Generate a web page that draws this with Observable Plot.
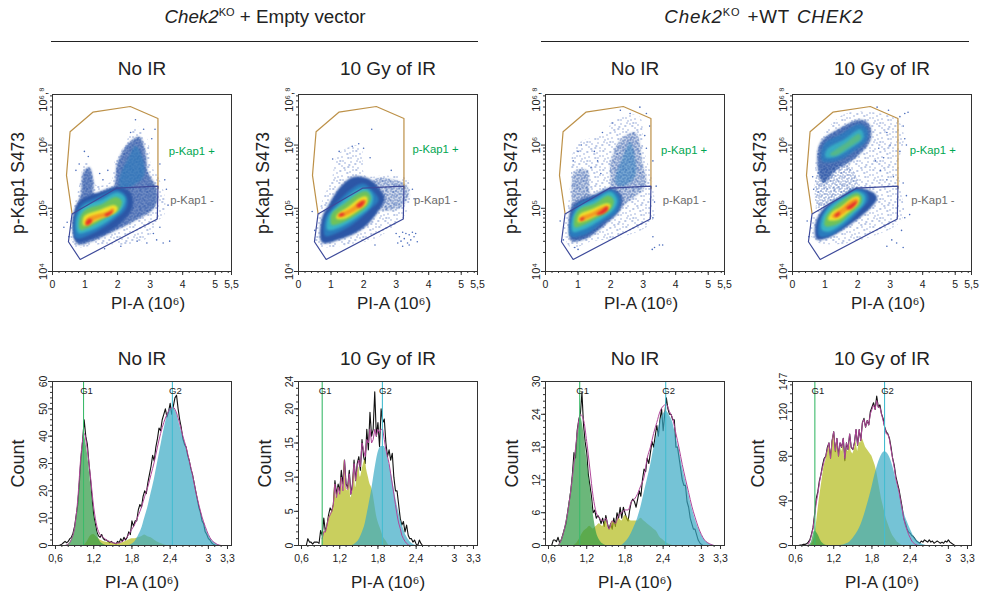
<!DOCTYPE html>
<html><head><meta charset="utf-8">
<script src="https://cdn.jsdelivr.net/npm/d3@7"></script>
<script src="https://cdn.jsdelivr.net/npm/@observablehq/plot@0.6"></script>
<style>
html,body{margin:0;padding:0;background:#fff;overflow:hidden}
#page{position:relative;width:983px;height:594px;font-family:"Liberation Sans",Arial,sans-serif;color:#222}
.head{position:absolute;top:6px;font-size:18.8px;white-space:nowrap;transform:translateX(-50%)}
.head sup{font-size:11px;line-height:0}
.rule{position:absolute;top:41px;height:1.2px;background:#222}
.pn{position:absolute}
</style></head><body>
<svg width="0" height="0" style="position:absolute"><defs id="defs"></defs></svg>
<div id="page">
<div class="head" style="left:265px"><i>Chek2</i><sup>KO</sup> + Empty vector</div>
<div class="head" style="left:764px;letter-spacing:.85px;word-spacing:1px"><i>Chek2</i><sup>KO</sup> +WT <i>CHEK2</i></div>
<div class="rule" style="left:51px;width:427px"></div>
<div class="rule" style="left:541px;width:428px"></div>
</div>
<script>
// ---- texture tiles for the sparse parts of the flow plots ----
const tileA=[[1,2],[6,1],[11,3],[17,1],[21,4],[3,7],[9,8],[14,6],[19,9],[1,11],[6,13],[12,12],[16,14],[21,12],[3,16],[9,17],[14,17],[19,18],[8,4],[14,1],[4,11],[10,15],[17,6],[22,8],[0,14],[18,11],[12,8],[5,18]];
const tileB=[[0,0],[2,1],[4,0],[7,1],[9,0],[12,1],[14,0],[17,1],[20,0],[1,3],[3,4],[6,3],[8,4],[11,3],[13,4],[16,3],[19,4],[21,3],[0,6],[2,7],[5,6],[7,7],[10,6],[12,7],[15,6],[18,7],[20,6],[22,7],[1,9],[4,10],[6,9],[9,10],[11,9],[14,10],[16,9],[19,10],[21,9],[0,12],[3,13],[5,12],[8,13],[10,12],[13,13],[15,12],[18,13],[20,12],[2,15],[4,16],[7,15],[9,16],[12,15],[14,16],[17,15],[19,16],[22,15],[1,18],[6,18],[11,17],[16,18],[21,17]];
function tile(id,list,col){
  const p=d3.select("#defs").append("pattern").attr("id",id).attr("width",23).attr("height",19).attr("patternUnits","userSpaceOnUse");
  list.forEach(([a,b],i)=>p.append("rect").attr("x",a).attr("y",b).attr("width",i%3?1:1.5).attr("height",1).attr("fill",col));
}
tile("spk0",tileA,"#4a6cbc"); tile("spk1",tileB,"#2f57aa");

// ---- colour levels of the pseudo-colour density ----
const S0="url(#spk0)",S1="url(#spk1)",B="#2c56a6",M="#2a7bbd",C="#38b3c4",G="#6fc25a",Y="#f0e32c",O="#f39a22",R="#e62f2b";

// ---- gates (PI-A, log10 p-Kap1) ----
const gatePos=[[.6,4.92],[.43,5.52],[.54,6.21],[1.24,6.52],[2.39,6.61],[3.24,6.42],[3.24,5.31]];
const gateNeg=[[.6,4.91],[1.98,5.32],[3.24,5.35],[3.22,4.83],[.85,4.19],[.49,4.47]];

// ---- panel 1 density outlines ----
const a0=[[.72,4.38],[.51,4.64],[.62,4.95],[.75,5.21],[.87,5.47],[.97,5.73],[1.18,5.68],[1.33,5.37],[1.79,5.42],[1.9,5.73],[2.2,5.99],[2.56,6.3],[2.92,6.09],[3.03,5.68],[3.23,5.52],[3.44,5.21],[3.44,4.9],[3.23,4.79],[2.92,4.53],[2.31,4.43],[1.49,4.43],[.87,4.38]];
const a1=[[.77,4.43],[.62,4.69],[.69,4.98],[.87,5.21],[.95,5.57],[1.13,5.65],[1.26,5.41],[1.28,5.23],[1.85,5.31],[2,5.73],[2.36,6.04],[2.67,6.13],[2.87,5.84],[2.92,5.58],[3.15,5.37],[3.23,5.16],[3.08,4.98],[2.51,4.8],[1.9,4.64],[1.28,4.49]];
const a1m=[[.75,4.47],[.63,4.72],[.7,4.98],[.87,5.13],[1.4,5.25],[2,5.34],[2.4,5.25],[2.45,5],[2,4.72],[1.3,4.53]];
const a2u=[[2.05,5.47],[2.31,5.78],[2.56,5.99],[2.77,5.8],[2.82,5.52],[2.51,5.37],[2.1,5.31]];
const a2=[[.72,4.53],[.69,4.85],[.87,5.05],[1.38,5.18],[2,5.29],[2.28,5.18],[2.26,5],[1.85,4.8],[1.18,4.59]];
const a3=[[.79,4.61],[.75,4.85],[.95,5.03],[1.49,5.13],[2,5.25],[2.23,5.16],[2.15,5],[1.69,4.79],[1.13,4.64]];
const a4=[[.85,4.66],[.85,4.86],[1.03,4.98],[1.49,5.06],[1.95,5.18],[2.12,5.12],[2.05,4.98],[1.64,4.85],[1.13,4.7]];
const a5=[[.95,4.73],[.97,4.87],[1.49,4.98],[1.9,5.05],[2,5.01],[1.95,4.94],[1.49,4.84],[1.08,4.74]];
const a6=[[1,4.75],[1.06,4.84],[1.33,4.9],[1.7,4.95],[1.85,5],[1.9,4.96],[1.7,4.88],[1.33,4.82],[1.05,4.73]];
const a7=[[1.02,4.76],[1.08,4.82],[1.2,4.83],[1.2,4.78],[1.05,4.73]];
const a8=[[1.6,4.9],[1.75,4.94],[1.85,4.97],[1.82,4.92],[1.65,4.87]];
const aDots=[[2.55,6.4],[2.8,6.25],[2.4,6.2],[3.05,6.1],[.98,5.9],[1.1,5.82],[.72,5.6],[.82,5.7],[3.3,5.7],[3.45,5.45],[3.5,5.3],[3.55,5.05],[3.3,4.7],[3.1,4.6],[2.9,4.45],[2.6,4.48],[3.4,4.45],[3.6,4.48],[3.2,4.5],[.45,4.78],[.5,4.55],[.35,4.7],[2.1,4.4],[1.6,4.36],[3.15,6.25],[1.45,5.55],[1.55,5.45],[1.7,5.6]];

// ---- panel 2 density outlines ----
const b0=[[.51,4.43],[.56,4.74],[.72,5.11],[1.02,5.47],[1.23,5.86],[1.9,5.99],[2.05,5.52],[2.61,5.52],[3.33,5.47],[3.43,5.21],[3.28,4.9],[2.41,4.53],[1.59,4.43],[.87,4.38]];
const b1=[[.72,4.46],[.72,4.85],[.92,5.05],[1.28,5.34],[1.69,5.5],[2.15,5.47],[2.5,5.3],[2.65,5.15],[2.45,4.95],[2,4.69],[1.28,4.51]];
const bArm=[[2.3,5.45],[3.3,5.38],[3.38,5.2],[3.1,5],[2.4,5]];
const b2=[[.82,4.56],[.82,4.85],[1.08,5.03],[1.59,5.29],[2,5.39],[2.31,5.26],[2.46,5.13],[2.2,4.98],[1.59,4.72],[1.08,4.59]];
const b3=[[.89,4.66],[.92,4.87],[1.28,5.08],[1.79,5.29],[2.05,5.32],[2.28,5.21],[2.25,5.06],[1.79,4.85],[1.23,4.69]];
const b4=[[1.02,4.74],[1.02,4.91],[1.43,5.08],[1.9,5.25],[2.12,5.26],[2.22,5.16],[2.1,5.03],[1.69,4.87],[1.23,4.75]];
const b5=[[1.16,4.84],[1.2,4.91],[1.49,5.01],[1.95,5.18],[2.1,5.18],[2.1,5.08],[1.79,4.95],[1.43,4.84]];
const b6=[[1.2,4.86],[1.35,4.93],[1.6,5],[1.95,5.13],[2.07,5.13],[2.05,5.07],[1.75,4.96],[1.45,4.88]];
const b7=[[1.22,4.89],[1.35,4.93],[1.42,4.9],[1.3,4.87]];
const b8=[[1.78,5.04],[1.95,5.11],[2.03,5.12],[1.98,5.05],[1.85,5.01]];
const bDots=[[2.25,6.25],[1.85,6.02],[1.65,5.98],[2.0,5.95],[2.2,5.8],[1.25,5.9],[1.05,5.78],[3.0,4.6],[3.1,4.55],[3.15,4.48],[3.2,4.62],[3.25,4.52],[3.3,4.6],[3.35,4.45],[3.4,4.58],[3.45,4.5],[3.5,4.62],[3.55,4.55],[3.6,4.6],[3.65,4.47],[3.05,4.45],[3.2,4.4],[3.4,4.42],[2.35,4.42],[.42,4.95],[.5,4.65],[3.5,5.3],[3.55,5.15],[2.85,5.6]];

// ---- panel 3 density outlines ----
const c0=[[.77,4.38],[.56,4.69],[.67,4.98],[.77,5.42],[.92,5.99],[1.84,6.2],[2.1,6.4],[2.87,6.46],[3.02,5.94],[3.28,5.42],[3.28,4.79],[2.25,4.53],[1.43,4.48]];
const c1=[[.79,4.48],[.72,4.74],[.8,5.03],[.9,5.58],[1.28,5.6],[1.4,5.22],[1.95,5.31],[2,5.73],[2.31,6.09],[2.77,6.2],[2.97,5.73],[3.08,5.37],[2.56,5.11],[2.2,4.95],[1.79,4.74],[1.2,4.51]];
const c1m=[[.8,4.5],[.72,4.75],[.78,5],[1,5.12],[1.5,5.22],[2,5.32],[2.35,5.2],[2.3,4.98],[1.85,4.75],[1.25,4.53]];
const c2=[[.77,4.56],[.79,4.87],[.97,5.05],[1.5,5.18],[2,5.29],[2.28,5.18],[2.2,4.95],[1.8,4.8],[1.2,4.58]];
const c2u=[[2.15,5.4],[2.4,5.85],[2.6,6.05],[2.75,5.8],[2.75,5.5],[2.4,5.35]];
const c3=[[.84,4.63],[.84,4.87],[1.05,5.03],[1.5,5.13],[2,5.26],[2.2,5.13],[2.1,4.98],[1.7,4.82],[1.15,4.66]];
const c4=[[.9,4.7],[.92,4.9],[1.1,5],[1.5,5.07],[1.95,5.2],[2.1,5.12],[2,4.98],[1.6,4.85],[1.15,4.73]];
const c5=[[1,4.78],[1.05,4.9],[1.4,4.98],[1.9,5.08],[2,5.05],[1.9,4.97],[1.5,4.87],[1.15,4.79]];
const c6=[[1.03,4.82],[1.1,4.87],[1.4,4.93],[1.8,5.03],[1.95,5.03],[1.85,4.96],[1.55,4.89],[1.2,4.82]];
const c7=[[1.55,4.9],[1.7,4.96],[1.9,5.03],[1.92,4.98],[1.72,4.9]];
const c8=[[1.05,4.82],[1.15,4.86],[1.2,4.83],[1.08,4.8]];
const cDots=[[2.9,6.6],[2.3,6.55],[2.6,6.5],[3.1,6.5],[3.2,6.3],[2.05,6.35],[1.75,6.2],[1.1,6],[1.0,5.9],[.85,5.75],[3.3,5.75],[3.4,5.35],[3.35,5.1],[3.3,4.85],[3.3,4.55],[3.35,4.38],[3.5,4.42],[3.6,4.42],[3.28,4.35],[.9,4.38],[1,4.35],[.45,4.8],[.55,4.5],[1.5,5.9],[1.6,5.75],[1.4,5.65],[1.7,5.55],[3.1,5.95],[3.05,6.15]];

// ---- panel 4 density outlines ----
const e0=[[.71,4.48],[.5,4.69],[.71,5],[.71,5.78],[.86,6.09],[1.48,6.46],[2.09,6.53],[3.22,6.4],[3.42,6.14],[3.27,5.73],[3.32,5.32],[3.42,4.9],[3.22,4.74],[2.3,4.53],[1.37,4.43]];
const e1m=[[.8,5.6],[.8,5],[1.5,5.2],[2,5.3],[1.7,5.7]];
const e1u=[[.78,5.62],[.86,6.04],[1.48,6.27],[2.09,6.4],[2.35,6.33],[2.4,6.09],[1.89,5.78],[1.37,5.62],[.95,5.4]];
const e2u=[[.91,5.75],[.96,6.01],[1.48,6.17],[2.04,6.33],[2.27,6.27],[2.3,6.09],[1.83,5.88],[1.37,5.75]];
const e3u=[[1.01,5.81],[1.07,5.94],[1.58,6.09],[2.09,6.25],[2.19,6.12],[1.83,5.96],[1.32,5.81]];
const e4u=[[1.15,5.85],[1.6,6.02],[2.05,6.18],[2.1,6.1],[1.75,5.97],[1.3,5.83]];
const e1=[[.74,4.51],[.71,4.77],[1.01,5.03],[1.48,5.18],[1.94,5.32],[2.45,5.26],[2.6,5.16],[2.35,4.98],[1.48,4.64],[.96,4.51]];
const e2=[[.82,4.56],[.82,4.8],[1.05,5],[1.5,5.18],[1.95,5.3],[2.27,5.25],[2.33,5.13],[2.1,4.98],[1.6,4.72],[1.1,4.56]];
const e3=[[.9,4.66],[.92,4.85],[1.15,5.03],[1.6,5.18],[1.98,5.27],[2.22,5.2],[2.2,5.08],[1.9,4.92],[1.5,4.74],[1.1,4.63]];
const e4=[[1,4.72],[1.03,4.87],[1.3,5.03],[1.7,5.18],[2,5.24],[2.12,5.18],[2.1,5.07],[1.75,4.9],[1.4,4.75]];
const e5=[[1.1,4.82],[1.2,4.93],[1.5,5.03],[1.9,5.18],[2.05,5.18],[2.02,5.08],[1.7,4.93],[1.4,4.82]];
const e6=[[1.2,4.87],[1.5,5],[1.85,5.14],[2,5.15],[1.95,5.07],[1.65,4.95],[1.35,4.85]];
const e7=[[1.3,4.89],[1.45,4.94],[1.45,4.9],[1.32,4.86]];
const e8=[[1.65,5],[1.9,5.1],[2,5.12],[1.93,5.05],[1.75,4.98]];
const eDots=[[3.45,6.5],[3.55,6.52],[3.3,6.45],[3.4,6.3],[3.45,6.1],[3.5,6],[3.3,5.9],[2.95,6.55],[2.6,6.6],[2.9,6.2],[3,6],[2.8,5.8],[2.7,5.6],[3.1,5.5],[2.9,5.45],[3.4,5.4],[3.5,5.2],[3.45,4.85],[3.35,4.65],[3.05,4.5],[3.2,4.45],[2.9,4.4],[3.4,4.38],[3.6,4.9],[.45,4.8],[.5,4.55],[.65,5.3],[.62,5.5],[2.55,5.75],[2.65,5.95]];

// ---- histogram x grids start at the first value, then fixed steps ----
const fine=.025, coarse=.05;
// panel 1 (No IR, empty vector)
const h1Black=[0,.2,.5,1,1.5,1,1.5,2.5,3,4.5,7,11,15,23,32,38,46,40,37,30,24,17,11,8,5,3.5,3,4,2.5,2,2,1.5,1,1.5,1,.8,.5,1.5,1,2.5,1.5,3,2,3,5,4,9,7,9,9,13,15,14,18,20,19,23,26,29,33,31,36,39,43,42,46,48,50,47,49,52,48,51,54,55,50,46,43,39,37,36,33,31,28,26,23,20,17,14,12,9,8,5,4,2.5,2,1,.5,.2,0];
const h1Fit=[0,.5,2.2,6.5,17,33,41,35,25,14,7,4,3,2,1.5,1,.8,1,1.5,2.5,4,6,8,11,14,18,21.5,26,30.5,36,41,45,48,50,50.5,48.5,44.5,40,36,31,26,20,15,10.5,7,4,2,1,.3,0];
const h1G1=[0,.5,2,6,15,30,40,34,23,12,5,1.5,.5,0];
const h1S=[0,1.5,3.5,4,3,2,1.5,1.2,1,.8,.5,.7,1,1.5,2,2.5,2.5,2.8,3.2,3.8,3.2,2.8,2,1.3,.7,.3,0];
const h1G2=[0,.5,1.5,3.5,6,10,14,19,24,30,36,42,47,50,50,48.5,44,40,36,31,26,20,15,10.5,7,4,2,1,.3,0];
// panel 2 (10 Gy, empty vector)
const h2Black=[0,1,.5,.5,.2,.5,.5,.5,.3,2.2,1.5,4,2,3,4.5,5.5,5,6,9.5,7.5,9,8,11,9,12.5,9,8.5,11,7.5,9,12.5,9.5,12,13,11,15.5,13,12,17,14,19.5,16,17,22.5,16,18,14.5,20,18,18.5,15,13,14,12.5,13.5,10,8,8,6,4,3,3.5,2,3,1.5,1,1,.5,.8,.2,0,.8,.3,0];
const h2Fit=[1,2,2,3,4,4.5,5,6,9,7,8.5,7.5,10,8,12.5,8.5,8.2,10.5,7.5,8.5,12,9.5,11.5,12.5,11.5,15,14,13,15.5,15,17,15,15.5,17,16,17,16.5,17,17,15.5,14,13,12,10.5,9,7.5,6,4.5,3.3,2.5,1.5,1,.6,.3,.1,0];
const h2S=[1,2,2,3,4,4.5,5,6,9,7,8.5,7.5,10,8,12.5,8.5,8,10,7,8,11.5,8.5,10.5,11.5,10,11,12,12.5,11,10,9,8.5,7.5,6,4.5,3.5,2.8,2.2,1.5,1,.7,.3,0];
const h2G2=[0,.3,.8,1.8,3.2,5.5,8,11,13.5,14.5,14.5,13,11,8.5,6,4,2.5,1.3,.6,.2,0];
// panel 3 (No IR, WT CHEK2)
const h3Black=[0,1,1,.7,1.5,.5,1,2,3,4,6,8,10,13,17,16,21,23,24,28,22,19,17,13,11,9,6,6.5,5,5.5,5,4,5,3.5,5.5,4,3,4,3,5,3.5,6,5,7,5,7,6,5,4.5,6.5,8,8.5,8,7,8.5,10,9,12,14,13.5,16,15,17,19,18,20,22,20,23,25,21,24,27,25,24,24,23,23,18,18,16,14,12,11,11,8,7,5,4,3,3,2,1,.5,.2,0];
const h3Fit=[0,1,3,6,10,15,20.5,24,23,19,14,9,6,5,4.5,5,3,4.5,4,5.5,6,6.5,6.5,8,8.5,9.5,11,12.5,16,18,20.5,22.5,24.5,25.5,25.8,24.5,23.2,20.5,17.8,14.8,12.2,9.7,7.2,5.2,3.4,2,1,.5,.2,0];
const h3G1=[0,1,3,6,10,15,20,23.5,21,16,11,6,2.5,1,.3,0];
const h3S=[0,.5,1.5,2.5,3,3.5,3,3.5,4,3.5,4.5,3,4.5,4,5,4.5,5.5,5,4.5,4.5,4.5,5,4.5,4,3.5,3,2.5,1.5,1,.5,.2,0];
const h3G2=[0,.5,1.2,2.2,3.5,5,7,9.5,12,14.5,17.5,20,22.5,24,24.5,23.8,22.5,20,17.5,14.5,12,9.5,7,5,3.3,2,1,.5,.2,0];
// panel 4 (10 Gy, WT CHEK2)
const h4Black=[0,.5,.5,1,1,1.5,3,5,10,16,28,42,48,58,64,72,78,80,88,92,78,94,102,84,96,80,92,88,96,76,92,86,100,88,86,92,104,90,104,94,110,114,106,112,108,120,124,128,122,134,124,126,118,114,106,102,100,96,88,78,72,62,56,50,42,34,24,20,15,12,11,9,8,6,4,3,2,4,3,5,4,3,5,3,4,2,3,4,3,2,3,2,4,3,5,3,2,1,0];
const h4Fit=[1,4,9,15,26,38,46,56,64,70,76,80,86,92,78,94,102,85,96,80,92,88,96,78,92,86,100,88,86,92,104,90,104,94,110,113,106,112,108,118,122,126,122,130,124,124,118,112,106,100,100,95,86,78,70,60,54,48,40,32,24,18,14,10,7,4,2.5,1,.5,0];
const h4G1=[0,3,13,10,4,1,0];
const h4S=[1,3,8,18,30,42,52,62,72,76,84,90,78,92,100,84,94,80,90,84,90,76,86,84,92,84,82,86,94,84,92,92,96,92,88,86,84,82,80,76,72,66,58,50,42,36,30,24,20,16,12,9,7,5,3,2,1,0];
const h4G2=[0,.5,1.5,3,6,10,15,22,31,41,52,64,74,81,84,82,76,66,54,42,30,22,15,9,5,2.5,1,0];

const series=(start,step,vals)=>vals.map((v,i)=>({x:start+i*step,y:v}));
const comma=v=>String(v).replace(".",",");
const ink="#333";
const fill={y:"rgb(178,186,26)",t:"rgb(58,169,196)",g:"rgb(50,155,70)"};

function put(node,left,top){
  const w=document.createElement("div");w.className="pn";w.style.left=left+"px";w.style.top=top+"px";
  w.appendChild(node);document.getElementById("page").appendChild(w);
}

// ---- flow panels ----
const decades=[1e4,1e5,1e6];
const decadeText=["10⁴","10⁵","10⁶"];
const topDecade=10**6.8;
const minorDecades=[2e4,3e4,4e4,5e4,6e4,7e4,8e4,9e4,2e5,3e5,4e5,5e5,6e5,7e5,8e5,9e5,2e6,3e6,4e6,5e6,6e6];
const flowTicks=[0,1,2,3,4,5,5.5];
const flowMinor=d3.range(0,5.5,.2);
const blob=(pts,f,o=1)=>Plot.line(pts,{x:d=>d[0],y:d=>10**d[1],fill:f,stroke:"none",fillOpacity:o,curve:"catmull-rom-closed",imageFilter:f.startsWith("url")?undefined:"blur(0.9px)"});
const gate=(pts,col,curve)=>Plot.line(pts,{x:d=>d[0],y:d=>10**d[1],stroke:col,strokeWidth:1.2,curve});

function flow(left,title,layers,dots,labX,yDx,xDx,plusE){
  put(Plot.plot({
    width:240,height:257,marginLeft:52,marginRight:9,marginTop:40,marginBottom:40,
    style:{background:"transparent",fontFamily:"'Liberation Sans',Arial,sans-serif",color:"#222",overflow:"visible"},
    x:{domain:[0,5.5]},y:{type:"log",domain:[1e4,topDecade]},
    marks:[
      ...layers.map(l=>blob(...l)),
      Plot.dot(dots,{x:d=>d[0],y:d=>10**d[1],r:.8,fill:"#4a6cbc"}),
      gate(gatePos,"#bd9148","linear"),
      gate(gateNeg,"#3d4a9a","linear-closed"),
      Plot.text(["p-Kap1 +"],{x:labX,y:10**plusE,text:d=>d,fill:"#00a651",fontSize:11.3,textAnchor:"start"}),
      Plot.text(["p-Kap1 -"],{x:labX+.05,y:10**5.13,text:d=>d,fill:"#6a6a6a",fontSize:11.3,textAnchor:"start"}),
      Plot.frame({stroke:ink,strokeWidth:1}),
      Plot.axisX({ticks:flowMinor,tickSize:2,tickFormat:()=>"",label:null,stroke:ink}),
      Plot.axisX({ticks:flowTicks,tickSize:4,tickPadding:5,tickFormat:comma,label:null,fontSize:10.5,stroke:ink}),
      Plot.axisY({ticks:minorDecades,tickSize:2,tickFormat:()=>"",label:null,stroke:ink}),
      Plot.axisY({ticks:decades,tickSize:4,tickPadding:2,tickRotate:-90,tickFormat:v=>decadeText[decades.indexOf(v)],label:null,fontSize:11,stroke:ink}),
      Plot.text(["10⁶,⁸"],{x:0,y:topDecade,dx:-9,dy:5,rotate:-90,text:d=>d,fontSize:11,fill:"#222"}),
      Plot.text([title],{frameAnchor:"top",dy:-26,lineAnchor:"middle",text:d=>d,fontSize:19,fill:"#222"}),
      Plot.text(["p-Kap1 S473"],{frameAnchor:"left",dx:yDx,rotate:-90,textAnchor:"middle",text:d=>d,fontSize:17.5,fill:"#222"}),
      Plot.text(["PI-A (10⁶)"],{frameAnchor:"bottom",dx:xDx,dy:32,lineAnchor:"middle",textAnchor:"middle",text:d=>d,fontSize:17,fill:"#222"})
    ]
  }),left,54);
}
flow(0,"No IR",[[a0,S0],[a1,S1],[a1,B,.7],[a1m,B],[a2u,M,.6],[a2,M],[a3,C],[a4,G],[a5,Y],[a6,O],[a7,R],[a8,R]],aDots,3.57,-34,6,5.9);
flow(246.3,"10 Gy of IR",[[b0,S0],[bArm,S1],[bArm,B,.25],[b1,B],[b2,M],[b3,C],[b4,G],[b5,Y],[b6,O],[b7,R],[b8,R]],bDots,3.5,-35,6,5.93);
flow(493,"No IR",[[c0,S0],[c1,S1],[c1,B,.3],[c1m,B,.85],[c2u,M,.5],[c2,M],[c3,C],[c4,G],[c5,Y],[c6,O],[c7,R],[c8,R]],cDots,3.55,-34,6,5.91);
flow(740,"10 Gy of IR",[[e0,S0],[e1m,S1],[e1u,S1],[e1u,B,.8],[e2u,M,.85],[e3u,C,.85],[e4u,G,.55],[e1,B],[e2,M],[e3,C],[e4,G],[e5,Y],[e6,O],[e7,R],[e8,R]],eDots,3.6,-32,6,5.91);

// ---- histogram panels ----
const histTicks=[.6,1.2,1.8,2.4,3,3.3];
const histMinor=d3.range(.6,3.31,.1);
function hist(o){
  const area=(d,f)=>Plot.areaY(d,{x:"x",y:"y",fill:f,fillOpacity:f===fill.g?.72:.7,curve:d.length>50?"linear":"monotone-x"});
  put(Plot.plot({
    width:240,height:249,marginLeft:52,marginRight:9,marginTop:40,marginBottom:45,
    style:{background:"transparent",fontFamily:"'Liberation Sans',Arial,sans-serif",color:"#222",overflow:"visible"},
    x:{domain:[.553,3.363]},y:{domain:[0,o.top]},
    marks:[
      Plot.lineY(o.black,{x:"x",y:"y",stroke:"#111",strokeWidth:1.1}),
      o.s?area(o.s,fill.y):null,
      area(o.g2,fill.t),
      o.g1?area(o.g1,fill.g):null,
      Plot.lineY(o.fit,{x:"x",y:"y",stroke:"#b0479a",strokeWidth:1,curve:o.fit.length>50?"linear":"monotone-x"}),
      Plot.ruleX([o.lines[0]],{stroke:"#3cba6a",strokeWidth:1.1}),
      Plot.ruleX([o.lines[1]],{stroke:"#45bcd0",strokeWidth:1.1}),
      Plot.text(["G1"],{x:o.lines[0],frameAnchor:"top",lineAnchor:"middle",dx:3,dy:9,text:d=>d,fontSize:9.5,fill:"#222"}),
      Plot.text(["G2"],{x:o.lines[1],frameAnchor:"top",lineAnchor:"middle",dx:3,dy:9,text:d=>d,fontSize:9.5,fill:"#222"}),
      Plot.frame({stroke:ink,strokeWidth:1}),
      Plot.axisX({ticks:histMinor,tickSize:2,tickFormat:()=>"",label:null,stroke:ink}),
      Plot.axisX({ticks:histTicks,tickSize:4,tickPadding:5,tickFormat:comma,label:null,fontSize:10.5,stroke:ink}),
      Plot.axisY({ticks:o.minor,tickSize:2,tickFormat:()=>"",label:null,stroke:ink}),
      Plot.axisY({ticks:o.ticks,tickSize:4,tickPadding:2,tickRotate:-90,label:null,fontSize:10.5,stroke:ink}),
      Plot.text([o.title],{frameAnchor:"top",dy:-23,lineAnchor:"middle",text:d=>d,fontSize:19,fill:"#222"}),
      Plot.text(["Count"],{frameAnchor:"left",dx:o.yDx,rotate:-90,textAnchor:"middle",text:d=>d,fontSize:18,fill:"#222"}),
      Plot.text(["PI-A (10⁶)"],{frameAnchor:"bottom",dy:37,lineAnchor:"middle",textAnchor:"middle",text:d=>d,fontSize:17,fill:"#222"})
    ]
  }),o.left,341);
}
hist({left:0,title:"No IR",top:60,ticks:[0,10,20,30,40,50,60],minor:d3.range(0,61,2),lines:[1.04,2.435],yDx:-34,
  black:series(.65,fine,h1Black),fit:series(.75,coarse,h1Fit),g1:series(.75,coarse,h1G1),s:series(1.05,coarse,h1S),g2:series(1.75,coarse,h1G2)});
hist({left:246.3,title:"10 Gy of IR",top:24,ticks:[0,5,10,15,20,24],minor:d3.range(0,25,1),lines:[.925,1.87],yDx:-33,
  black:series(.675,fine,h2Black),fit:series(.925,fine,h2Fit),s:series(.925,fine,h2S),g2:series(1.4,coarse,h2G2)});
hist({left:493,title:"No IR",top:30,ticks:[0,6,12,18,24,30],minor:d3.range(0,30.1,1.2),lines:[1.09,2.44],yDx:-33,
  black:series(.65,fine,h3Black),fit:series(.75,coarse,h3Fit),g1:series(.75,coarse,h3G1),s:series(1,coarse,h3S),g2:series(1.75,coarse,h3G2)});
hist({left:740,title:"10 Gy of IR",top:147,ticks:[0,40,80,120,147],minor:d3.range(0,147,8),lines:[.904,1.998],yDx:-34,
  black:series(.65,fine,h4Black),fit:series(.8,fine,h4Fit),g1:series(.8,coarse,h4G1),s:series(.85,fine,h4S),g2:series(1.3,coarse,h4G2)});
</script>
</body></html>
